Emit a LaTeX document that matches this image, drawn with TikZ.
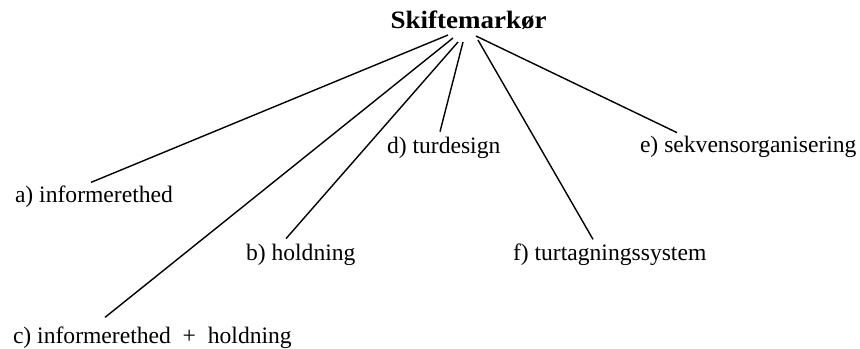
\documentclass[tikz,border=0pt]{standalone}
\usepackage{fontspec}
\setmainfont{Liberation Serif}
\usetikzlibrary{calc}
\tikzset{
  lbl/.style={inner sep=0pt, outer sep=0pt, anchor=base west, font=\fontsize{11.8}{14}\selectfont},
  rootlbl/.style={inner sep=0pt, outer sep=0pt, anchor=base},
  conn/.style={line width=0.7pt, black}
}
\begin{document}
\begin{tikzpicture}[x=0.5pt,y=-0.5pt]
\useasboundingbox (0,0) rectangle (860,348);
\node[rootlbl] (root) at (468.5,28) {\scalebox{1.08}[1]{\fontsize{12.5}{14}\selectfont\bfseries Skiftemark\o r}};
\node[lbl] (la) at (15,202) {a) informerethed};
\node[lbl] (lb) at (246,260) {b) holdning};
\node[lbl] (lc) at (13,343) {c) informerethed~~+~~holdning};
\node[lbl] (ld) at (387,153) {d) turdesign};
\node[lbl] (le) at (640,152) {e) sekvensorganisering};
\node[lbl] (lf) at (513,260) {f) turtagningssystem};
\coordinate (sa) at ($(root.south)+(-20.5,6)$);
\coordinate (sc) at ($(root.south)+(-15.5,9)$);
\coordinate (sb) at ($(root.south)+(-10.5,13)$);
\coordinate (sd) at ($(root.south)+(-5.5,13)$);
\coordinate (se) at ($(root.south)+(7.5,7)$);
\coordinate (sf) at ($(root.south)+(9.5,11)$);
\draw[conn] (sa) -- ($(la.north west)+(76,-3)$);
\draw[conn] (sc) -- ($(lc.north west)+(92,-9)$);
\draw[conn] (sb) -- ($(lb.north west)+(40,-5)$);
\draw[conn] (sd) -- ($(ld.north west)+(53,-5)$);
\draw[conn] (se) -- ($(le.north west)+(37,-3)$);
\draw[conn] (sf) -- ($(lf.north west)+(80,-4)$);
\end{tikzpicture}
\end{document}
